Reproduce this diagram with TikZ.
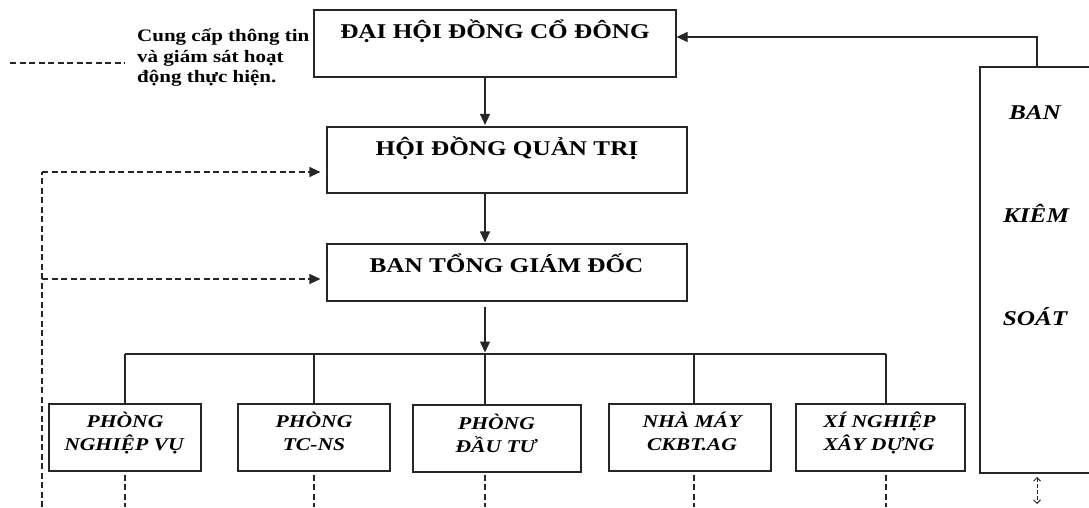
\documentclass[tikz,border=0pt]{standalone}
\usepackage{fontspec}
\setmainfont{Liberation Serif}
\newfontfamily\wf[FakeStretch=1.2]{Liberation Serif}
\usetikzlibrary{arrows.meta,calc}
\begin{document}
\begin{tikzpicture}[x=1pt,y=-1pt,
  box/.style={draw=black!85,line width=1.2pt,inner sep=0pt},
  conn/.style={draw=black!85,line width=1.2pt},
  arr/.style={conn,-{Triangle[length=11pt,width=10pt]}},
  dsh/.style={draw=black!85,line width=1.2pt,dash pattern=on 6pt off 3.5pt},
  darr/.style={dsh,-{Triangle[length=11pt,width=10pt]}},
  title/.style={font=\wf\bfseries\fontsize{21}{25}\selectfont,anchor=base,inner sep=0pt},
  unit/.style={font=\wf\bfseries\itshape\fontsize{18}{21}\selectfont,anchor=base,inner sep=0pt},
  side/.style={font=\wf\bfseries\itshape\fontsize{21}{25}\selectfont,anchor=base,inner sep=0pt},
  legend/.style={font=\wf\bfseries\fontsize{17.5}{21}\selectfont,anchor=base west,inner sep=0pt},
]
\useasboundingbox (0,0) rectangle (1089,507);

% boxes
\node[box,minimum width=362pt,minimum height=67pt] (dh) at (495,43.5) {};
\node[box,minimum width=360pt,minimum height=66pt] (hq) at (507,160) {};
\node[box,minimum width=360pt,minimum height=57pt] (bt) at (507,272.5) {};
\node[box,minimum width=130pt,minimum height=406pt] (bks) at (1045,270) {};
\node[box,minimum width=152pt,minimum height=67pt] (nv) at (125,437.5) {};
\node[box,minimum width=152pt,minimum height=67pt] (tc) at (314,437.5) {};
\node[box,minimum width=168pt,minimum height=67pt] (dt) at (497,438.5) {};
\node[box,minimum width=162pt,minimum height=67pt] (nm) at (690,437.5) {};
\node[box,minimum width=169pt,minimum height=67pt] (xn) at (880.5,437.5) {};

% titles
\node[title] (dhT) at (495,38) {ĐẠI HỘI ĐỒNG CỔ ĐÔNG};
\node[title] (hqT) at (507,155) {HỘI ĐỒNG QUẢN TRỊ};
\node[title] (btT) at (506.5,272) {BAN TỔNG GIÁM ĐỐC};

\node[side] (bks1) at (1035,119) {BAN};
\node[side] (bks2) at (1036,222) {KIÊM};
\node[side] (bks3) at (1035,325) {SOÁT};

\node[unit] (nv1) at (125,427) {PHÒNG};
\node[unit] (nv2) at (124,450) {NGHIỆP VỤ};
\node[unit] (tc1) at (314,427) {PHÒNG};
\node[unit] (tc2) at (314,450) {TC-NS};
\node[unit] (dt1) at (496.5,429) {PHÒNG};
\node[unit] (dt2) at (496,452) {ĐẦU TƯ};
\node[unit] (nm1) at (692,427) {NHÀ MÁY};
\node[unit] (nm2) at (692,450) {CKBT.AG};
\node[unit] (xn1) at (879.5,427) {XÍ NGHIỆP};
\node[unit] (xn2) at (879,450) {XÂY DỰNG};

% legend
\coordinate (lgA) at (10,63);
\coordinate (lgB) at (125,63);
\draw[dsh] (lgA) -- (lgB);
\node[legend] (lg1) at (137,41) {Cung cấp thông tin};
\node[legend] (lg2) at (137,62) {và giám sát hoạt};
\node[legend] (lg3) at (137,82) {động thực hiện.};

% main spine
\coordinate (sp) at (485,0);
\draw[arr] (dh.south -| sp) -- ($(hq.north -| sp)+(0,-1.5)$);
\draw[arr] (hq.south -| sp) -- ($(bt.north -| sp)+(0,-1)$);
\coordinate (bus) at (485,354);
\draw[arr] ($(bt.south -| sp)+(0,5)$) -- ($(bus)+(0,-1.5)$);

% bus and drops
\coordinate (dNV) at (125,354);
\coordinate (dTC) at (314,354);
\coordinate (dNM) at (694,354);
\coordinate (dXN) at (886,354);
\draw[conn] (dNV) -- (dXN);
\draw[conn] (dNV) -- (nv.north -| dNV);
\draw[conn] (dTC) -- (tc.north -| dTC);
\draw[conn] (bus) -- (dt.north -| bus);
\draw[conn] (dNM) -- (nm.north -| dNM);
\draw[conn] (dXN) -- (xn.north -| dXN);

% dashed below units
\coordinate (bot) at (0,507);
\draw[dsh] ($(nv.south -| dNV)+(0,3)$) -- (bot -| dNV);
\draw[dsh] ($(tc.south -| dTC)+(0,3)$) -- (bot -| dTC);
\draw[dsh] ($(dt.south -| bus)+(0,2)$) -- (bot -| bus);
\draw[dsh] ($(nm.south -| dNM)+(0,3)$) -- (bot -| dNM);
\draw[dsh] ($(xn.south -| dXN)+(0,3)$) -- (bot -| dXN);

% left dashed feedback
\coordinate (lv) at (42,172);
\coordinate (lv2) at (42,279);
\coordinate (lvb) at (42,507);
\draw[dsh] (lvb) -- (lv);
\draw[darr] (lv) -- ($(hq.west |- lv)+(-6,0)$);
\draw[darr] (lv2) -- ($(bt.west |- lv2)+(-6,0)$);

% BKS to DHDCD
\coordinate (kb) at (1037,67);
\coordinate (kt) at (1037,37);
\draw[arr] (kb) -- (kt) -- (dh.east |- kt);

% double dashed arrow below BKS
\coordinate (ka) at (1037,477);
\coordinate (kz) at (1037,504);
\draw[draw=black!85,line width=1pt,dash pattern=on 3.5pt off 2.5pt,{Straight Barb[length=3.5pt,width=7pt]}-{Straight Barb[length=3.5pt,width=7pt]}] (ka) -- (kz);
\end{tikzpicture}
\end{document}
